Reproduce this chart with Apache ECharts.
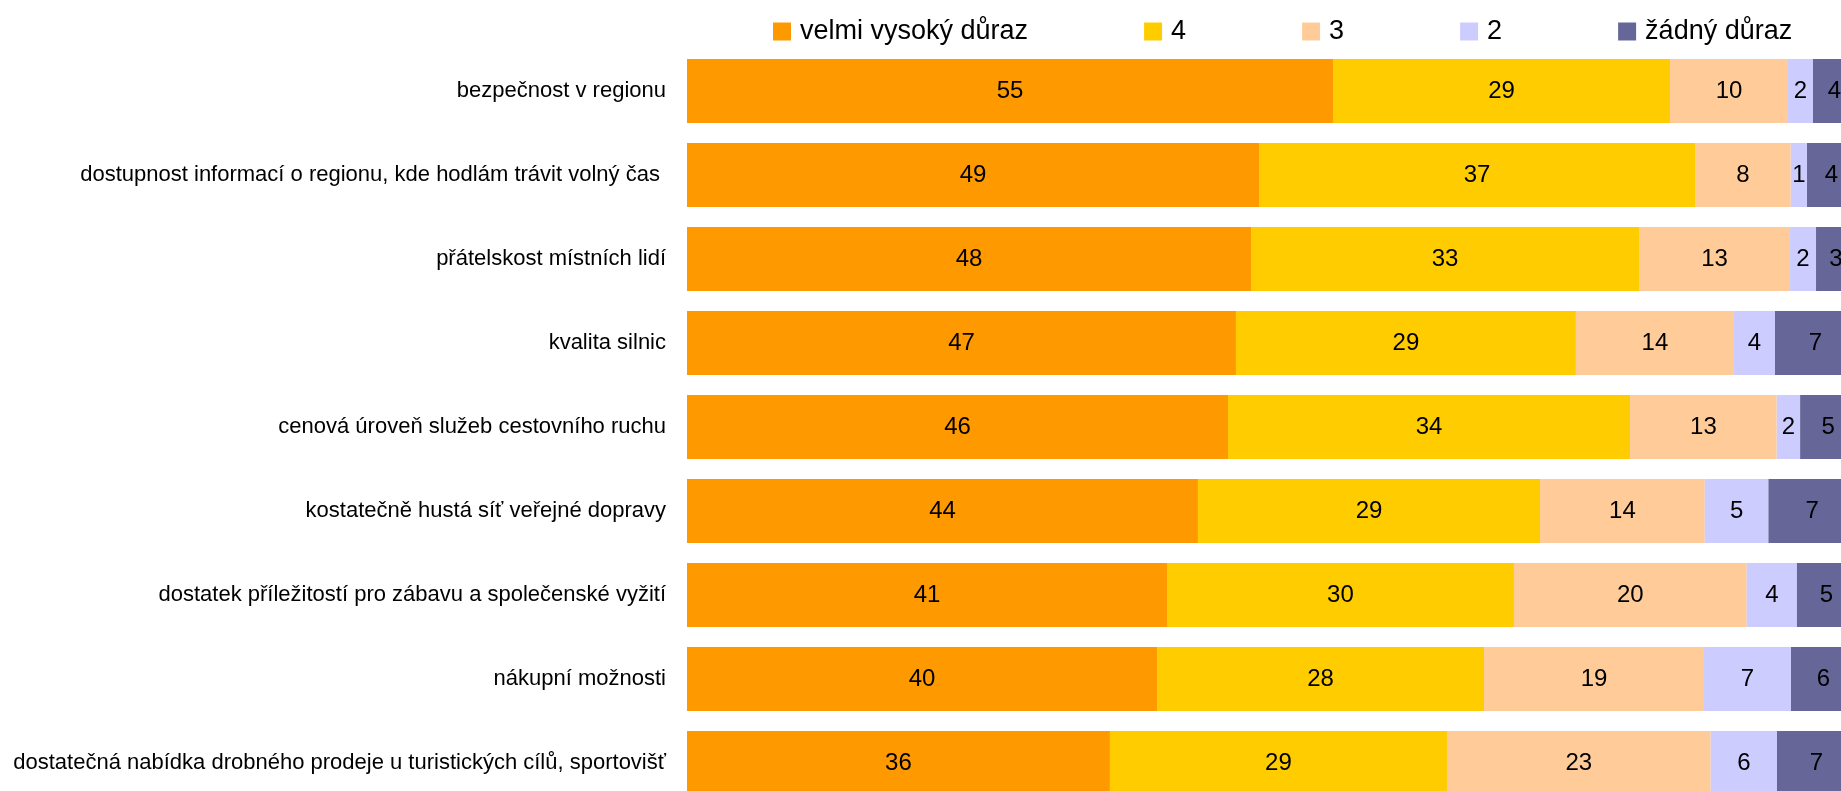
<!DOCTYPE html>
<html lang="cs">
<head>
    <meta charset="UTF-8">
    <title>Důraz na faktory v regionu</title>
    <script src="https://cdn.jsdelivr.net/npm/echarts@6/dist/echarts.min.js"></script>
    <style>
        html, body { margin: 0; padding: 0; background: #fff; }
        #main { width: 1841px; height: 791px; }
    </style>
</head>
<body>
<div id="main"></div>
<script>
    var categories = [
        'bezpečnost v regionu',
        'dostupnost informací o regionu, kde hodlám trávit volný čas ',
        'přátelskost místních lidí',
        'kvalita silnic',
        'cenová úroveň služeb cestovního ruchu',
        'kostatečně hustá síť veřejné dopravy',
        'dostatek příležitostí pro zábavu a společenské vyžití',
        'nákupní možnosti',
        'dostatečná nabídka drobného prodeje u turistických cílů, sportovišť'
    ];
    var seriesNames = ['velmi vysoký důraz', '4', '3', '2', 'žádný důraz'];
    var colors = ['#FF9900', '#FFCC00', '#FFCC99', '#CCCCFF', '#666699'];

    // podíly v % (popisky jsou zaokrouhlené)
    var veryHigh = [55.26, 48.93, 48.25, 46.96, 46.28, 43.71, 41.06, 40.21, 36.18];
    var four     = [28.83, 37.30, 33.19, 29.08, 34.39, 29.26, 29.68, 27.97, 28.83];
    var three    = [10.09,  8.19, 12.92, 13.52, 12.55, 14.09, 19.91, 18.82, 22.56];
    var two      = [ 2.14,  1.39,  2.22,  3.51,  2.00,  5.45,  4.30,  7.44,  5.67];
    var none     = [ 3.68,  4.19,  3.42,  6.93,  4.78,  7.49,  5.05,  5.56,  6.76];

    var font = "'Liberation Sans', Arial, sans-serif";
    var chart = echarts.init(document.getElementById('main'));

    var allData = [veryHigh, four, three, two, none];
    var series = allData.map(function (d, i) {
        return {
            name: seriesNames[i],
            type: 'bar',
            stack: 'total',
            barWidth: 64,
            data: d,
            itemStyle: { color: colors[i] },
            label: {
                show: true,
                position: 'inside',
                color: '#000',
                fontFamily: font,
                fontSize: 24,
                formatter: function (p) { return Math.round(p.value); }
            },
            emphasis: { disabled: true }
        };
    });

    var option = {
        backgroundColor: '#fff',
        animation: false,
        color: colors,
        legend: {
            data: seriesNames,
            left: 773,
            top: 18,
            padding: 0,
            itemWidth: 18,
            itemHeight: 18,
            itemGap: 116,
            icon: 'rect',
            textStyle: {
                color: '#000',
                fontFamily: font,
                fontSize: 27,
                padding: [0, 0, 0, 4]
            }
        },
        grid: {
            left: 687,
            right: -15,
            top: 49,
            bottom: -14,
            containLabel: false,
            outerBoundsMode: 'none'
        },
        xAxis: {
            type: 'value',
            min: 0,
            max: 100,
            show: false
        },
        yAxis: {
            type: 'category',
            inverse: true,
            data: categories,
            axisLine: { show: false },
            axisTick: { show: false },
            splitLine: { show: false },
            axisLabel: {
                margin: 21,
                color: '#000',
                fontFamily: font,
                fontSize: 22
            }
        },
        series: series
    };
    chart.setOption(option);
</script>
</body>
</html>
